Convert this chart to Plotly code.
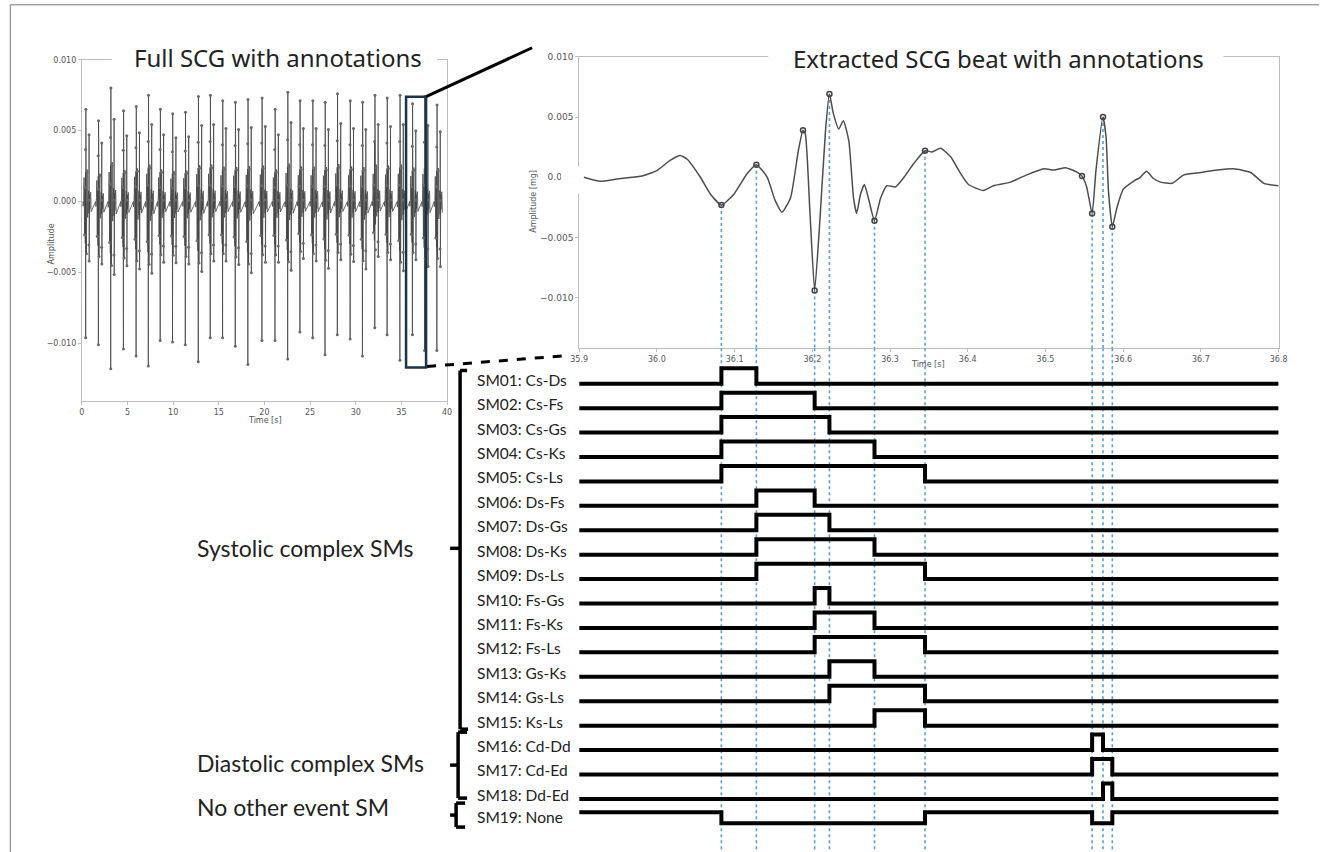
import numpy as np
import plotly.graph_objects as go

W, H = 1328, 852

# ---------------- data ----------------
# Full SCG: beat times (s) and peak amplitudes
beat_times = [0.44, 1.83, 3.18, 4.57, 5.96, 7.30, 8.60, 9.95, 11.35, 12.77, 14.08, 15.43, 16.82,
              18.20, 19.74, 21.17, 22.56, 23.90, 25.30, 26.65, 28.00, 29.40, 30.75, 32.10,
              33.45, 34.85, 36.22, 37.55, 38.90]
beat_max = [0.0065, 0.0057, 0.0080, 0.0064, 0.0067, 0.0075, 0.0065, 0.0062, 0.0063, 0.0074,
            0.0075, 0.0071, 0.0070, 0.0072, 0.0073, 0.0065, 0.0077, 0.0071, 0.0071, 0.0070,
            0.0076, 0.0071, 0.0070, 0.0075, 0.0073, 0.0075, 0.0069, 0.0074, 0.0068]
beat_min = [-0.0096, -0.0101, -0.0118, -0.0104, -0.0109, -0.0116, -0.0098, -0.0099, -0.0101,
            -0.0113, -0.0096, -0.0096, -0.0102, -0.0115, -0.0098, -0.0098, -0.0111, -0.0092,
            -0.0096, -0.0108, -0.0094, -0.0097, -0.0109, -0.0089, -0.0094, -0.0112, -0.0094,
            -0.0105, -0.0105]

# Extracted beat waveform (s, mg)
ext_t = [35.906, 35.927, 35.949, 35.979, 36.000, 36.017, 36.030, 36.039, 36.056, 36.069, 36.083,
         36.099, 36.116, 36.128, 36.142, 36.152, 36.161, 36.172, 36.182, 36.188, 36.191, 36.197,
         36.203, 36.210, 36.217, 36.222, 36.227, 36.234, 36.240, 36.247, 36.253, 36.257, 36.262,
         36.267, 36.272, 36.280, 36.288, 36.296, 36.307, 36.318, 36.330, 36.345, 36.354, 36.365,
         36.378, 36.390, 36.401, 36.420, 36.433, 36.455, 36.476, 36.498, 36.511, 36.526, 36.541,
         36.547, 36.553, 36.560, 36.565, 36.574, 36.578, 36.581, 36.586, 36.592, 36.600, 36.614,
         36.622, 36.630, 36.639, 36.648, 36.663, 36.678, 36.700, 36.721, 36.742, 36.764, 36.781,
         36.800]
ext_v = [0.0000, -0.00033, -0.00014, 0.00008, 0.00056, 0.0014, 0.0018, 0.0015, 0.0000, -0.0014,
         -0.0023, -0.0014, 0.0003, 0.00105, 0.0000, -0.0019, -0.0029, -0.0017, 0.0022, 0.0039,
         0.0036, -0.0030, -0.0094, -0.0033, 0.0039, 0.0069, 0.0053, 0.0040, 0.0047, 0.0030,
         -0.0017, -0.0030, -0.0014, -0.0006, -0.0017, -0.0036, -0.0017, -0.0007, -0.0008, 0.0000,
         0.0011, 0.0022, 0.0021, 0.0024, 0.0017, 0.0004, -0.0006, -0.0011, -0.0007, -0.0004,
         0.0002, 0.0007, 0.0006, 0.0008, 0.0004, 0.0001, -0.0008, -0.0030, 0.0006, 0.0050,
         0.0033, -0.0011, -0.0041, -0.0025, -0.0010, -0.0003, 0.0000, 0.0005, -0.0001, -0.0004,
         -0.0005, 0.0002, 0.0004, 0.0006, 0.0007, 0.0004, -0.0005, -0.0007]

# Annotated fiducial events
event_names = ["Cs", "Ds", "Fs", "Gs", "Ks", "Ls", "Cd", "Dd", "Ed"]
event_times = [36.083, 36.128, 36.203, 36.222, 36.280, 36.345, 36.560, 36.574, 36.586]
event_amps = [-0.0023, 0.00105, -0.0094, 0.0069, -0.0036, 0.0022, -0.0030, 0.0050, -0.0041]
extra_mark_t = [36.188, 36.547]
extra_mark_v = [0.0039, 0.0001]

# Segmentation masks
sm_labels = ["SM01: Cs-Ds", "SM02: Cs-Fs", "SM03: Cs-Gs", "SM04: Cs-Ks", "SM05: Cs-Ls",
             "SM06: Ds-Fs", "SM07: Ds-Gs", "SM08: Ds-Ks", "SM09: Ds-Ls", "SM10: Fs-Gs",
             "SM11: Fs-Ks", "SM12: Fs-Ls", "SM13: Gs-Ks", "SM14: Gs-Ls", "SM15: Ks-Ls",
             "SM16: Cd-Dd", "SM17: Cd-Ed", "SM18: Dd-Ed", "SM19: None"]
sm_start = ["Cs", "Cs", "Cs", "Cs", "Cs", "Ds", "Ds", "Ds", "Ds", "Fs", "Fs", "Fs", "Gs", "Gs",
            "Ks", "Cd", "Cd", "Dd"]
sm_end = ["Ds", "Fs", "Gs", "Ks", "Ls", "Fs", "Gs", "Ks", "Ls", "Gs", "Ks", "Ls", "Ks", "Ls",
          "Ls", "Dd", "Ed", "Ed"]
none_low_intervals = [("Cs", "Ls"), ("Cd", "Ed")]
group_labels = ["Systolic complex SMs", "Diastolic complex SMs", "No other event SM"]

x_ticks_full = [0, 5, 10, 15, 20, 25, 30, 35, 40]
y_ticks = [-0.010, -0.005, 0.0, 0.005, 0.010]
y_ticktext = ["\u22120.010", "\u22120.005", "0.000", "0.005", "0.010"]
x_ticks_beat = [35.9, 36.0, 36.1, 36.2, 36.3, 36.4, 36.5, 36.6, 36.7, 36.8]

# ---------------- helpers ----------------
# page-pixel -> paper coordinates (with a small correction for the capture framing)
OX, SX = 9.2, 0.9858
OY, SY = 4.2, 0.995

def px(x):
    return ((x - OX) / SX) / W

def py(y):
    return 1 - ((y - OY) / SY) / H

ev = dict(zip(event_names, event_times))
T0, T1 = 35.9, 36.8

fig = go.Figure()

# ---------------- full SCG ----------------
ext_t_a = np.array(ext_t)
ext_v_a = np.array(ext_v)
ref_t = ev["Gs"]
pos_ref = max(ext_v)
neg_ref = min(ext_v)
ft, fv = [], []
mt, mv = [], []
mark_t_all = np.array(event_times + extra_mark_t)
mark_v_all = np.array(event_amps + extra_mark_v)
for bt, bmax, bmin in zip(beat_times, beat_max, beat_min):
    sv = np.where(ext_v_a > 0, ext_v_a * bmax / pos_ref, ext_v_a * bmin / neg_ref)
    ft.extend(list(bt + (ext_t_a - ref_t)))
    fv.extend(list(sv))
    smv = np.where(mark_v_all > 0, mark_v_all * bmax / pos_ref, mark_v_all * bmin / neg_ref)
    mt.extend(list(bt + (mark_t_all - ref_t)))
    mv.extend(list(smv))

fig.add_trace(go.Scatter(x=ft, y=fv, mode="lines", line=dict(color="#454545", width=0.8),
                         xaxis="x", yaxis="y", hoverinfo="skip"))
fig.add_trace(go.Scatter(x=mt, y=mv, mode="markers",
                         marker=dict(color="#6a6a6a", size=3), xaxis="x", yaxis="y",
                         hoverinfo="skip"))

# ---------------- extracted beat ----------------
Y2MIN, Y2MAX = -0.01418, 0.0100
DOT_COLOR = "#5a9fcf"
for t, a in zip(event_times, event_amps):
    fig.add_trace(go.Scatter(x=[t, t], y=[a, Y2MIN], mode="lines",
                             line=dict(color=DOT_COLOR, width=1.6, dash="dot"),
                             xaxis="x2", yaxis="y2", hoverinfo="skip", cliponaxis=False))
fig.add_trace(go.Scatter(x=ext_t, y=ext_v, mode="lines",
                         line=dict(color="#4d4d4d", width=1.5, shape="spline", smoothing=0.5),
                         xaxis="x2", yaxis="y2"))
fig.add_trace(go.Scatter(x=event_times + extra_mark_t, y=event_amps + extra_mark_v,
                         mode="markers",
                         marker=dict(symbol="circle-open", color="#444444", size=5,
                                     line=dict(width=1.5)),
                         xaxis="x2", yaxis="y2"))

# ---------------- SM panel ----------------
ROW0_PX, ROW_STEP_PX = 383.3, 24.44
Y3_TOP = 1 + (347.7 - ROW0_PX) / ROW_STEP_PX
Y3_BOT = 1 + (OY + SY * H - ROW0_PX) / ROW_STEP_PX
PULSE = 15.5 / ROW_STEP_PX
PULSE_NONE = 11 / ROW_STEP_PX

for t in event_times:
    fig.add_trace(go.Scatter(x=[t, t], y=[Y3_TOP, Y3_BOT], mode="lines",
                             line=dict(color=DOT_COLOR, width=1.6, dash="dot"),
                             xaxis="x3", yaxis="y3", hoverinfo="skip"))

for i, (s, e) in enumerate(zip(sm_start, sm_end)):
    row = i + 1
    xs = [T0, ev[s], ev[e], T1]
    ys = [row, row - PULSE, row, row]
    fig.add_trace(go.Scatter(x=xs, y=ys, mode="lines", line=dict(color="black", width=4,
                             shape="hv"), xaxis="x3", yaxis="y3"))

row = len(sm_labels)
xs, ys = [T0], [row - PULSE_NONE]
for s, e in none_low_intervals:
    xs += [ev[s], ev[e]]
    ys += [row, row - PULSE_NONE]
xs.append(T1)
ys.append(row - PULSE_NONE)
fig.add_trace(go.Scatter(x=xs, y=ys, mode="lines",
                         line=dict(color="black", width=4, shape="hv"),
                         xaxis="x3", yaxis="y3"))

annotations = []
for i, lab in enumerate(sm_labels):
    ypx = ROW0_PX + i * ROW_STEP_PX - 4
    if i == len(sm_labels) - 1:
        ypx = ROW0_PX + i * ROW_STEP_PX - 6
    annotations.append(dict(x=px(475), y=py(ypx), xref="paper", yref="paper", text=lab,
                            showarrow=False, xanchor="left", yanchor="middle",
                            font=dict(family="Lato", size=15.5, color="#222")))

for lab, ypos in zip(group_labels, [548, 763, 807]):
    annotations.append(dict(x=px(195), y=py(ypos), xref="paper", yref="paper", text=lab,
                            showarrow=False, xanchor="left", yanchor="middle",
                            font=dict(family="Lato", size=23, color="#222")))

# titles
annotations.append(dict(x=px(278), y=py(57), xref="paper", yref="paper",
                        text="Full SCG with annotations", showarrow=False,
                        xanchor="center", yanchor="middle",
                        font=dict(family="Noto Sans", size=24, color="#222")))
annotations.append(dict(x=px(998), y=py(58), xref="paper", yref="paper",
                        text="Extracted SCG beat with annotations", showarrow=False,
                        xanchor="center", yanchor="middle",
                        font=dict(family="Noto Sans", size=24, color="#222")))
# axis titles
ax_font = dict(family="DejaVu Sans", size=8, color="#555")
for txt, xx, yy, ang in [("Amplitude", 52, 243, -90), ("Time [s]", 265, 420, 0),
                         ("Amplitude [mg]", 533, 201, -90), ("Time [s]", 928, 364, 0)]:
    annotations.append(dict(x=px(xx), y=py(yy), xref="paper", yref="paper", text=txt,
                            showarrow=False, textangle=ang, xanchor="center",
                            yanchor="middle", font=ax_font))

# ---------------- shapes ----------------
shapes = []
def pline(x0, y0, x1, y1, color="black", width=3.5, dash=None):
    d = dict(type="line", xref="paper", yref="paper", x0=px(x0), y0=py(y0), x1=px(x1),
             y1=py(y1), line=dict(color=color, width=width), layer="above")
    if dash:
        d["line"]["dash"] = dash
    return d

# white covers for titles over top spines and the 0.000 label
shapes.append(dict(type="rect", xref="paper", yref="paper", x0=px(112), x1=px(437),
                   y0=py(68), y1=py(46), fillcolor="white", line=dict(width=0), layer="above"))
shapes.append(dict(type="rect", xref="paper", yref="paper", x0=px(768), x1=px(1223),
                   y0=py(66), y1=py(44), fillcolor="white", line=dict(width=0), layer="above"))
shapes.append(dict(type="rect", xref="paper", yref="paper", x0=px(561), x1=px(581),
                   y0=py(193), y1=py(166), fillcolor="white", line=dict(width=0), layer="above"))

# zoom box and connectors
shapes.append(dict(type="rect", xref="paper", yref="paper", x0=px(406), x1=px(426),
                   y0=py(367), y1=py(96), line=dict(color="#1c3448", width=2.5), layer="above"))
shapes.append(pline(426, 96, 532, 47, width=3))
shapes.append(pline(427, 366, 568, 355, width=3, dash="dash"))

# braces
shapes += [pline(460, 370, 460, 729), pline(460, 370, 467, 370), pline(460, 729, 468, 729),
           pline(450, 548, 460, 548)]
shapes += [pline(458, 732, 458, 798), pline(458, 732, 467, 732), pline(458, 798, 467, 798),
           pline(450, 765, 458, 765)]
shapes += [pline(456, 803, 456, 827), pline(456, 803, 465, 803), pline(456, 827, 465, 827),
           pline(450, 815, 456, 815)]

# frame
fx = max(px(6), 0.001)
shapes.append(dict(type="line", xref="paper", yref="paper", x0=fx, x1=1, y0=py(4), y1=py(4),
                   line=dict(color="#777", width=1), layer="above"))
shapes.append(dict(type="line", xref="paper", yref="paper", x0=fx, x1=fx, y0=0, y1=py(4),
                   line=dict(color="#777", width=1), layer="above"))

tick_font = dict(family="DejaVu Sans", size=8, color="#555")
axis_common = dict(showline=True, mirror=True, linecolor="#bdbdbd", linewidth=1,
                   ticks="outside", ticklen=3, tickcolor="#bdbdbd", showgrid=False,
                   zeroline=False, tickfont=tick_font)

fig.update_layout(
    width=W, height=H, margin=dict(l=0, r=0, t=0, b=0),
    paper_bgcolor="white", plot_bgcolor="white", showlegend=False,
    xaxis=dict(domain=[px(82), px(447)], range=[0, 40], tickvals=x_ticks_full,
               anchor="y", **axis_common),
    yaxis=dict(domain=[py(401), py(59)], range=[-0.0141, 0.0100], tickvals=y_ticks,
               ticktext=y_ticktext, anchor="x", **axis_common),
    xaxis2=dict(domain=[px(579), px(1278)], range=[T0, T1], tickvals=x_ticks_beat,
                ticktext=[f"{v:.1f}" for v in x_ticks_beat], anchor="y2", **axis_common),
    yaxis2=dict(domain=[py(347.7), py(56)], range=[Y2MIN, Y2MAX], tickvals=y_ticks,
                ticktext=y_ticktext, anchor="x2",
                **{**axis_common, "tickfont": dict(family="DejaVu Sans", size=9, color="#555")}),
    xaxis3=dict(domain=[px(579), px(1278)], range=[T0, T1], visible=False, anchor="y3"),
    yaxis3=dict(domain=[0, py(347.7)], range=[Y3_BOT, Y3_TOP], visible=False, anchor="x3"),
    annotations=annotations, shapes=shapes,
)

fig.write_html(
    "out.html",
    config={"displayModeBar": False},
    post_script=("document.documentElement.style.margin='0px';"
                 "document.documentElement.style.padding='0px';"
                 "document.documentElement.style.overflow='hidden';"
                 "document.body.style.margin='0px';"
                 "document.body.style.padding='0px';"
                 "document.body.style.overflow='hidden';"),
)
